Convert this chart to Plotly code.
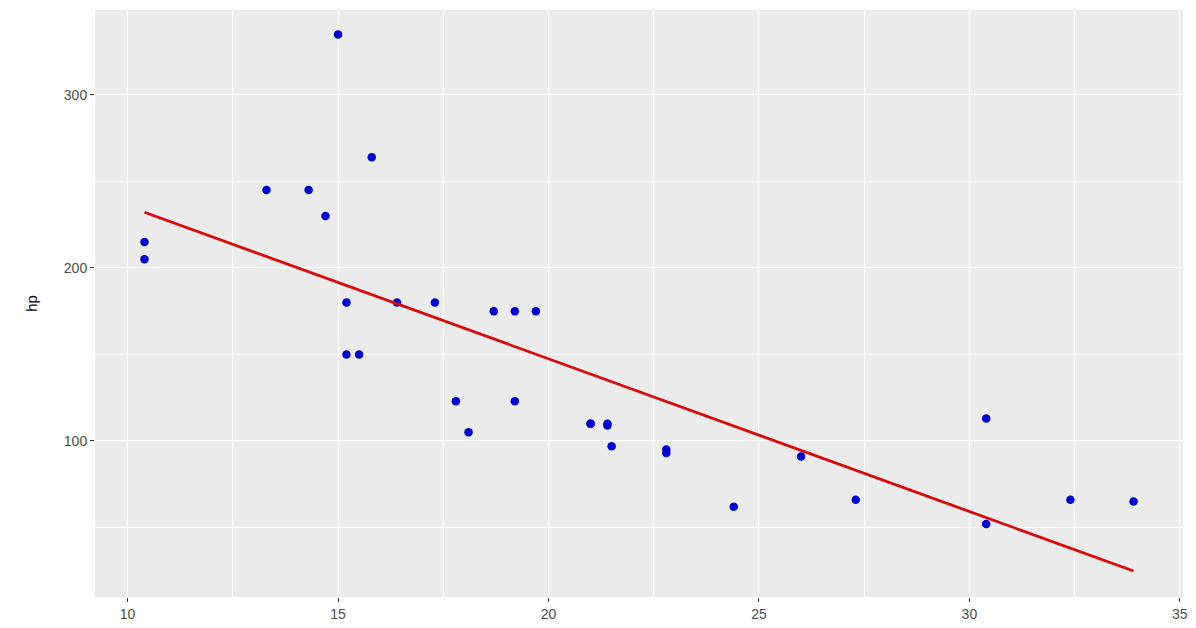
import plotly.graph_objects as go

# mtcars: miles per gallon vs gross horsepower
mpg = [21.0, 21.0, 22.8, 21.4, 18.7, 18.1, 14.3, 24.4, 22.8, 19.2, 17.8,
       16.4, 17.3, 15.2, 10.4, 10.4, 14.7, 32.4, 30.4, 33.9, 21.5, 15.5,
       15.2, 13.3, 19.2, 27.3, 26.0, 30.4, 15.8, 19.7, 15.0, 21.4]
hp = [110, 110, 93, 110, 175, 105, 245, 62, 95, 123, 123,
      180, 180, 180, 205, 215, 230, 66, 52, 65, 97, 150,
      150, 245, 175, 66, 91, 113, 264, 175, 335, 109]

# linear fit line (endpoints)
fit_mpg = [10.4, 33.9]
fit_hp = [232.2, 24.8]

x_ticks = [10, 15, 20, 25, 30, 35]
y_ticks = [100, 200, 300]

fig = go.Figure()
fig.add_trace(go.Scatter(x=mpg, y=hp, mode="markers",
                         marker=dict(color="#0000CD", size=8.5), showlegend=False))
fig.add_trace(go.Scatter(x=fit_mpg, y=fit_hp, mode="lines",
                         line=dict(color="#DA0A0A", width=2.8), showlegend=False))

axis_common = dict(showgrid=True, gridcolor="white", gridwidth=1.2,
                   zeroline=False, showline=False,
                   ticks="outside", ticklen=4, tickwidth=1, tickcolor="#333333",
                   tickfont=dict(family="Liberation Sans, Arial", size=14, color="#4D4D4D"))

fig.update_layout(
    width=1196, height=628,
    margin=dict(l=87, r=21, t=2, b=39),
    plot_bgcolor="#EBEBEB", paper_bgcolor="white",
    font=dict(family="Liberation Sans, Arial", color="black"),
    xaxis=dict(range=[9.225, 35.075], tickvals=x_ticks,
               minor=dict(dtick=2.5, tick0=7.5, showgrid=True, gridcolor="white",
                          gridwidth=0.6, ticks=""),
               **axis_common),
    yaxis=dict(range=[9.8, 349.1], tickvals=y_ticks,
               title=dict(text="hp", font=dict(size=15), standoff=22),
               minor=dict(dtick=50, tick0=0, showgrid=True, gridcolor="white",
                          gridwidth=0.6, ticks=""),
               **axis_common),
)

fig.write_html("out.html")
